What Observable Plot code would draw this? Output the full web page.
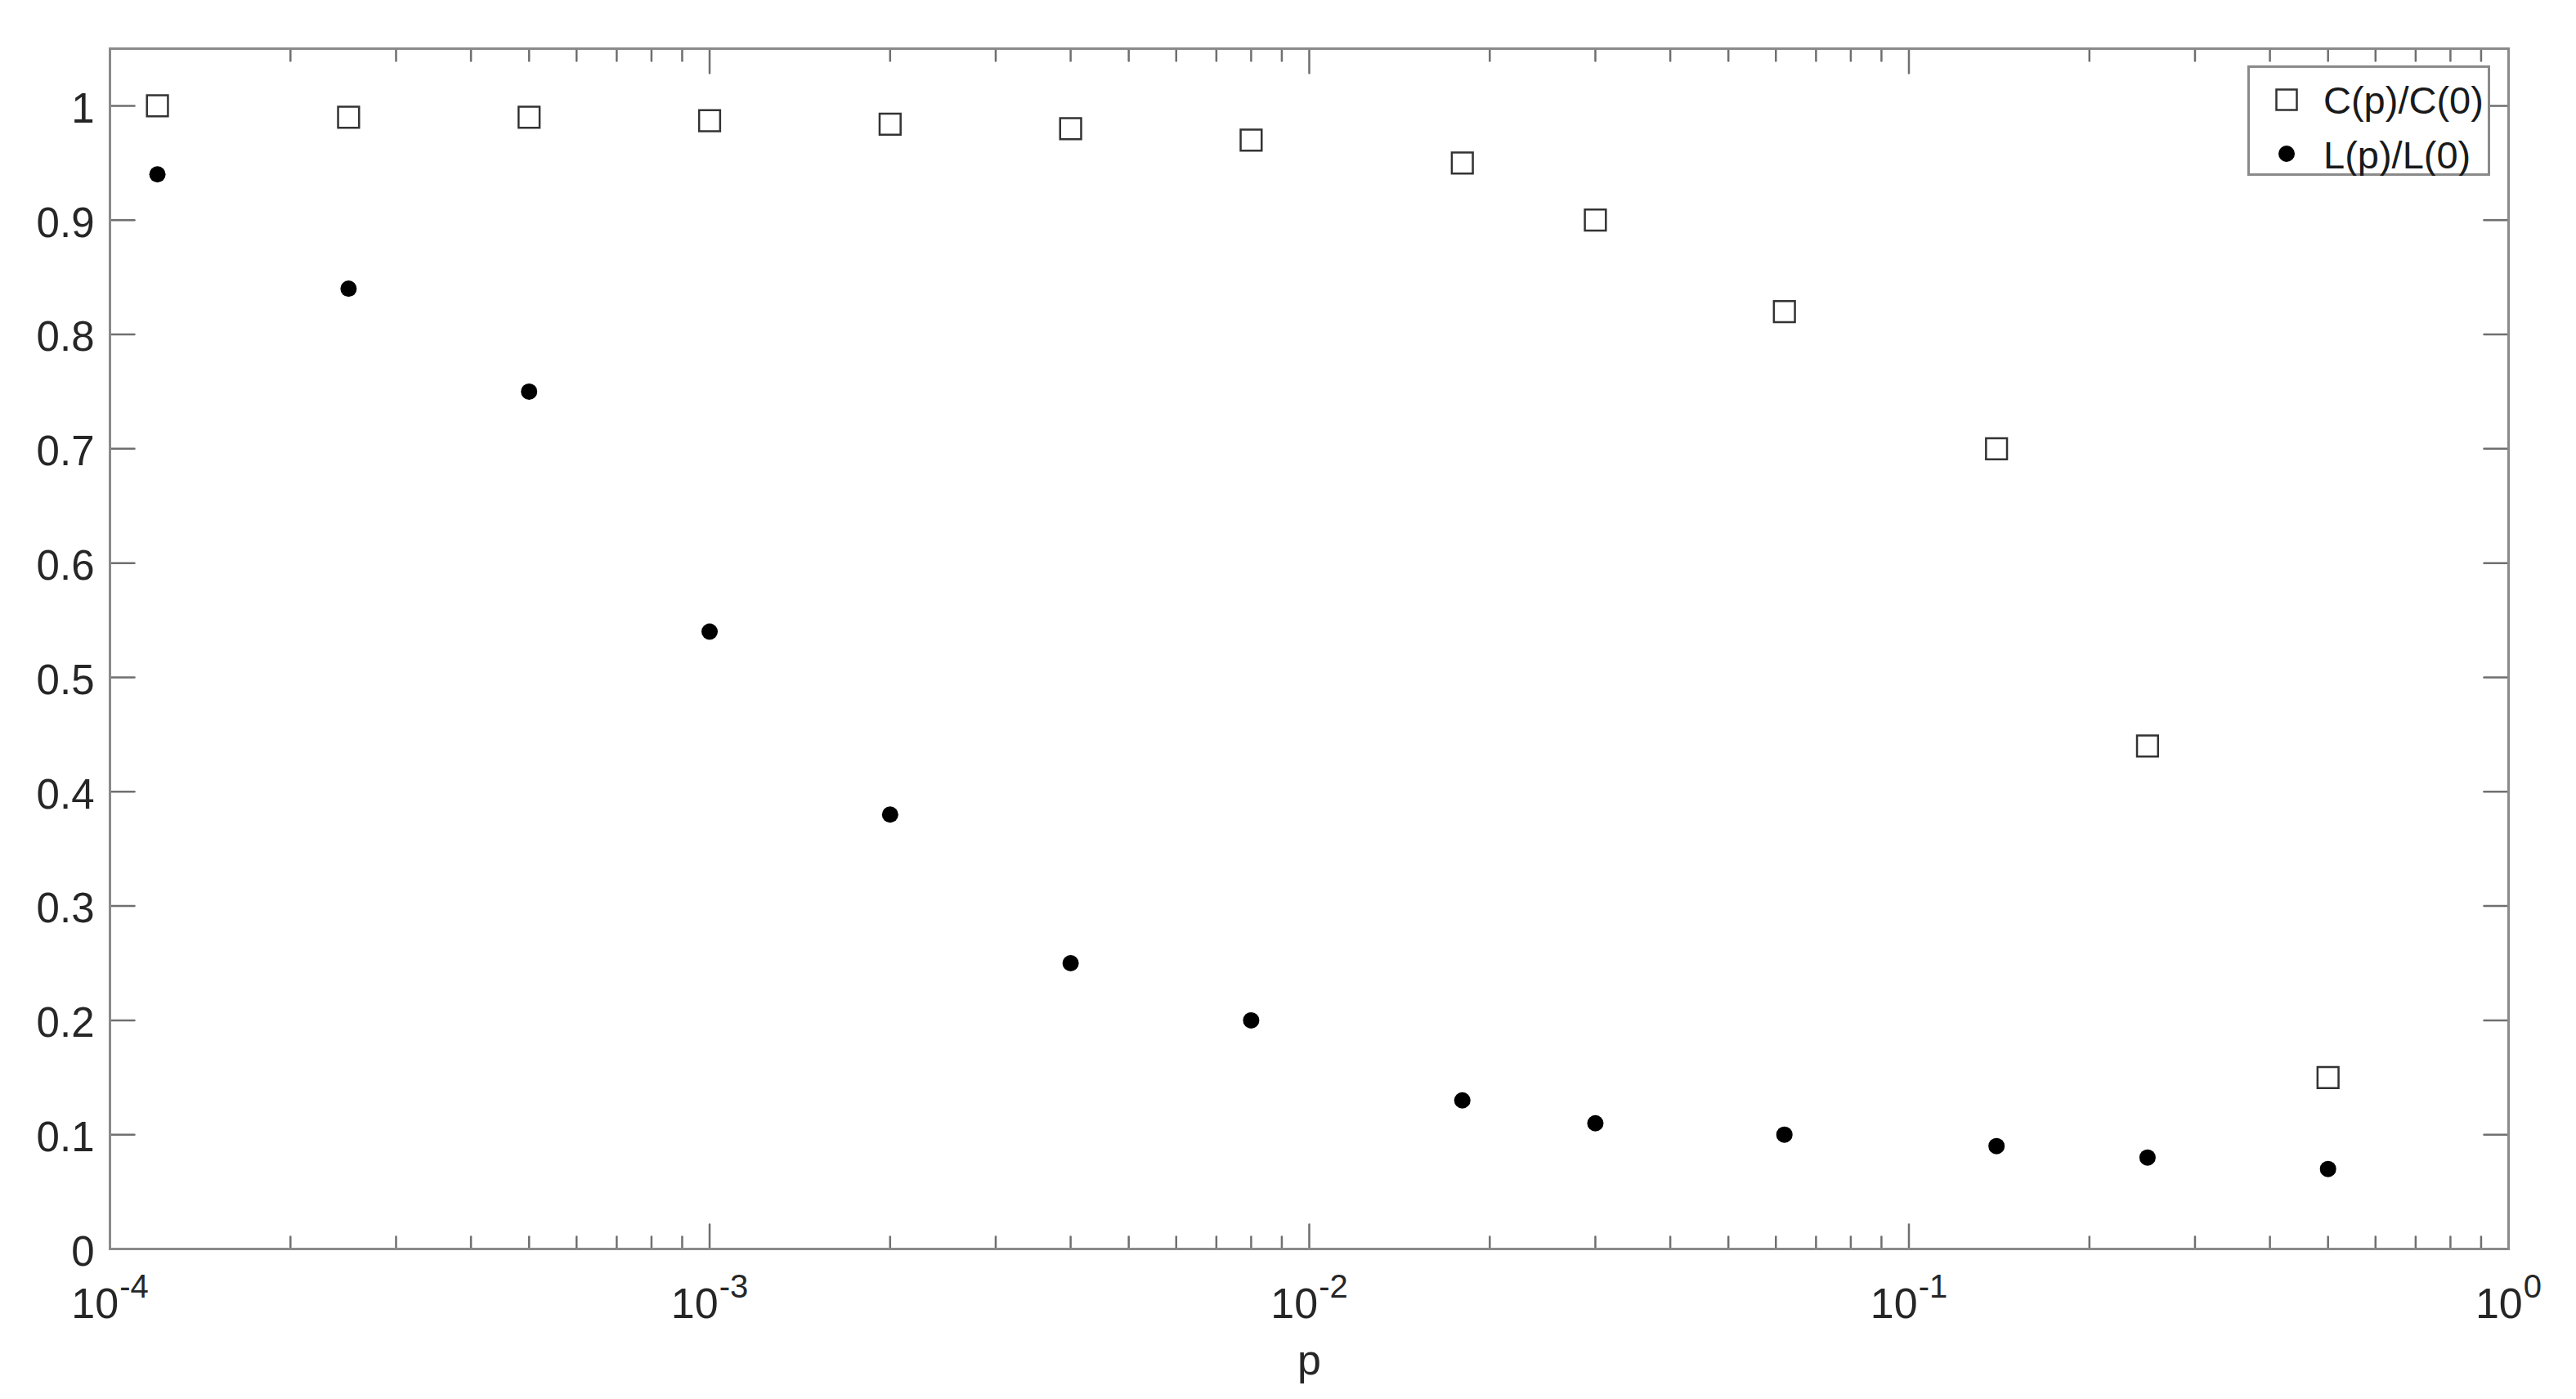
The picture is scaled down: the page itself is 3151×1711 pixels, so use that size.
<!DOCTYPE html>
<html>
<head>
<meta charset="utf-8">
<script src="https://cdn.jsdelivr.net/npm/d3@7"></script>
<script src="https://cdn.jsdelivr.net/npm/@observablehq/plot@0.6"></script>
<style>
  html, body { margin: 0; padding: 0; background: #ffffff; }
  #wrap { position: relative; width: 3151px; height: 1711px; }
  #legend { position: absolute; left: 2749px; top: 80px; }
</style>
</head>
<body>
<div id="wrap"></div>
<script>
// ---- data ----
const p      = [0.00012, 0.00025, 0.0005, 0.001, 0.002, 0.004, 0.008, 0.018, 0.03, 0.062, 0.14, 0.25, 0.5];
const cRatio = [1.0, 0.99, 0.99, 0.987, 0.984, 0.98, 0.97, 0.95, 0.90, 0.82, 0.70, 0.44, 0.15];
const lRatio = [0.94, 0.84, 0.75, 0.54, 0.38, 0.25, 0.20, 0.13, 0.11, 0.10, 0.09, 0.08, 0.07];
const seriesNames = ["C(p)/C(0)", "L(p)/L(0)"];
const xMajor = [1e-4, 1e-3, 1e-2, 1e-1, 1];
const xTickLabels = ["10^-4", "10^-3", "10^-2", "10^-1", "10^0"];
const yTicks = [0, 0.1, 0.2, 0.3, 0.4, 0.5, 0.6, 0.7, 0.8, 0.9, 1];
const yTickLabels = ["0", "0.1", "0.2", "0.3", "0.4", "0.5", "0.6", "0.7", "0.8", "0.9", "1"];
const xLabel = ["p"];

const rows = p.map((v, i) => ({p: v, c: cRatio[i], l: lRatio[i]}));
const xMinor = d3.scaleLog().domain([1e-4, 1]).ticks().filter(t => !xMajor.some(m => Math.abs(m - t) / m < 1e-9));

const tickShape = {draw(context, l) { context.moveTo(0, 0); context.lineTo(0, -l); }};
const tickColor = "#6f6f6f";
const tickW = 2.5;

const chart = Plot.plot({
  width: 3151,
  height: 1711,
  marginLeft: 134,
  marginRight: 83,
  marginTop: 59,
  marginBottom: 184,
  style: {fontFamily: "'Liberation Sans', Arial, Helvetica, sans-serif", fontSize: "51px", color: "#262626", background: "#ffffff"},
  x: {type: "log", domain: [1e-4, 1]},
  y: {domain: [0, 1.05]},
  marks: [
    Plot.axisY({anchor: "left", ticks: yTicks, tickSize: 0, tickPadding: 19, label: null, fontSize: 51, dy: 4,
      tickFormat: d => yTickLabels[yTicks.findIndex(v => Math.abs(v - d) < 1e-9)]}),
    Plot.axisX({anchor: "bottom", ticks: xMajor, tickSize: 0, tickPadding: 48, label: null, fontSize: 52,
      tickFormat: d => xTickLabels[xMajor.findIndex(v => Math.abs(v - d) / v < 1e-9)]}),
    // inward ticks, all four sides
    Plot.vector(yTicks, {y: d => d, frameAnchor: "left", rotate: 90, length: 30, anchor: "start", shape: tickShape, stroke: tickColor, strokeWidth: tickW}),
    Plot.vector(yTicks, {y: d => d, frameAnchor: "right", rotate: -90, length: 30, anchor: "start", shape: tickShape, stroke: tickColor, strokeWidth: tickW}),
    Plot.vector(xMajor, {x: d => d, frameAnchor: "bottom", rotate: 0, length: 30, anchor: "start", shape: tickShape, stroke: tickColor, strokeWidth: tickW}),
    Plot.vector(xMinor, {x: d => d, frameAnchor: "bottom", rotate: 0, length: 15, anchor: "start", shape: tickShape, stroke: tickColor, strokeWidth: tickW}),
    Plot.vector(xMajor, {x: d => d, frameAnchor: "top", rotate: 180, length: 30, anchor: "start", shape: tickShape, stroke: tickColor, strokeWidth: tickW}),
    Plot.vector(xMinor, {x: d => d, frameAnchor: "top", rotate: 180, length: 15, anchor: "start", shape: tickShape, stroke: tickColor, strokeWidth: tickW}),
    Plot.frame({stroke: "#8a8a8a", strokeWidth: 3}),
    Plot.text(xLabel, {text: d => d, frameAnchor: "bottom", dy: 153, lineAnchor: "bottom", fontSize: 52, fill: "#262626"}),
    Plot.dot(rows, {x: "p", y: "c", symbol: "square", r: 14.5, stroke: "#333333", strokeWidth: 2.5, fill: "none"}),
    Plot.dot(rows, {x: "p", y: "l", r: 10, fill: "#000000", stroke: "none"})
  ]
});

// superscript exponents on x tick labels
d3.select(chart).selectAll('g[aria-label="x-axis tick label"] text').each(function() {
  const s = this.textContent;
  const parts = s.split("^");
  if (parts.length !== 2) return;
  const t = d3.select(this);
  t.text(null);
  t.append("tspan").text(parts[0]);
  t.append("tspan").attr("dy", -25).attr("dx", 1).attr("font-size", 40).text(parts[1]);
});

const wrap = document.getElementById("wrap");
wrap.appendChild(chart);

// legend (inside axes, top-right)
const lw = 297, lh = 135;
const leg = d3.create("svg").attr("id", "legend").attr("width", lw).attr("height", lh)
  .style("font-family", "'Liberation Sans', Arial, Helvetica, sans-serif");
leg.append("rect").attr("x", 1.5).attr("y", 1.5).attr("width", lw - 3).attr("height", lh - 3)
  .attr("fill", "#ffffff").attr("stroke", "#8a8a8a").attr("stroke-width", 3);
leg.append("rect").attr("x", 48 - 12.5).attr("y", 42 - 12.5).attr("width", 25).attr("height", 25)
  .attr("fill", "none").attr("stroke", "#333333").attr("stroke-width", 2.5);
leg.append("circle").attr("cx", 48).attr("cy", 108).attr("r", 10).attr("fill", "#000000");
leg.selectAll("text.lab").data(seriesNames).join("text").attr("class", "lab")
  .attr("x", 93).attr("y", (d, i) => i === 0 ? 59 : 126)
  .attr("font-size", 47).attr("fill", "#1a1a1a").text(d => d);
wrap.appendChild(leg.node());
</script>
</body>
</html>
